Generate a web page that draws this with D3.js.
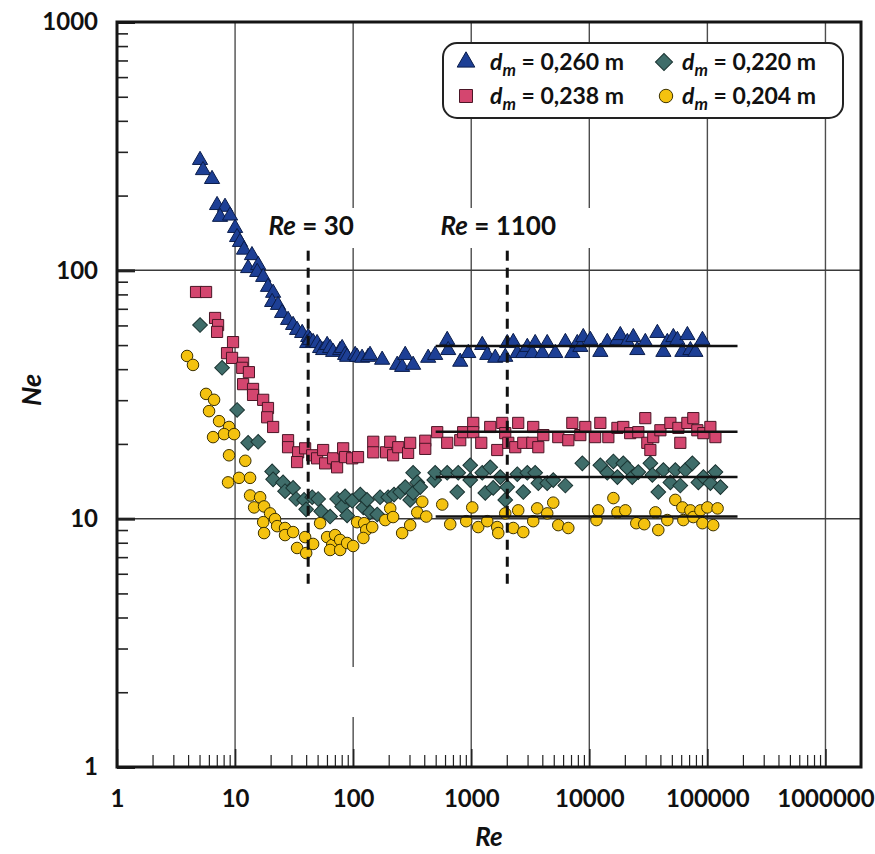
<!DOCTYPE html>
<html><head><meta charset="utf-8">
<script src="https://cdn.jsdelivr.net/npm/d3@7"></script>
<style>
html,body{margin:0;padding:0;background:#fff;}
svg{display:block;font-family:Lato,"Open Sans",sans-serif;}
</style></head><body>
<svg id="chart" width="875" height="854"></svg>
<script>
// ---------- data ----------
const reTicks = [1, 10, 100, 1000, 10000, 100000, 1000000];
const neTicks = [1, 10, 100, 1000];
const seriesLabels = ["0,260", "0,238", "0,220", "0,204"];

const dm260 = [[5.05,278],[5.35,253],[6.38,233],[7.04,183],[8.22,180],[7.46,164],[9.07,166],[10,148],[10.4,136],[11.0,130],[11.9,121],[13.9,115],[12.9,102],[15.7,105],[15.4,98.4],[17.3,94],[19.0,85.7],[21.0,81.1],[20.6,74.5],[23.1,72.5],[25.0,67.3],[28.1,63.1],[31.0,60.2],[33.5,57.5],[37.0,55.9],[41.6,53.8],[40.8,50.9],[43.2,52.4],[45.8,51.4],[49.5,50.9],[52.5,48.6],[55.7,47.7],[60.2,50.0],[63.8,48.6],[67.7,46.9],[77.6,47.7],[80.7,48.6],[85.5,45.6],[88.9,44.8],[104,45.6],[108,44.8],[119,44.4],[134,44.8],[139,45.6],[176,43.6],[236,41.6],[260,40.8],[276,45.6],[322,41.6],[432,44.4],[495,45.6],[626,52.4],[638,47.7],[807,42.8],[944,46.4],[1240,50.0],[1367,45.6],[1597,44.4],[1941,44.8],[2018,50.9],[2270,51.4],[2455,46.4],[2760,46.4],[2985,49.1],[3290,46.4],[3480,50.9],[4000,46.4],[4400,50.9],[5150,46.4],[6270,51.4],[7180,46.4],[7910,50.9],[8390,49.1],[8890,53.8],[10200,52.4],[12400,46.9],[14200,51.4],[17300,52.4],[18300,54.8],[21000,51.4],[23600,53.8],[25500,47.7],[29800,51.4],[37700,55.9],[42400,46.9],[45800,51.4],[51500,53.8],[55700,52.4],[61400,46.9],[67700,54.8],[71800,47.7],[79100,46.9],[90800,52.4]];

const dm238 = [[4.67,81.8],[5.68,81.8],[6.77,64.3],[7.18,60.2],[7.04,56.5],[9.61,51.4],[8.55,46.4],[9.43,44.4],[11.7,42.4],[11.5,40.5],[13.1,38.9],[11.7,34.8],[14.2,33.3],[14.2,31.5],[17.3,30.1],[19.0,27.9],[18.7,25.6],[21.0,23.4],[28.1,20.7],[28.1,19.4],[34.2,18.5],[33.5,16.9],[39.2,19.2],[45.0,18.0],[49.5,17.5],[55.7,18.9],[57.9,16.7],[67.7,17.5],[73.1,16.1],[82.3,19.2],[85.5,17.7],[98.1,17.5],[110,17.7],[148,20.4],[148,18.5],[190,18.5],[206,20.4],[218,18.0],[241,19.4],[292,18.4],[304,20.2],[408,20.6],[408,19.1],[515,22.3],[626,20.2],[807,20.7],[855,22.3],[1040,24.3],[1040,22.3],[1216,20.2],[1449,23.4],[1660,18.9],[1832,24.3],[1941,22.1],[2060,20.2],[2360,19.4],[2500,24.3],[2760,20.2],[3290,20.2],[3350,23.4],[3700,19.4],[4080,21.7],[5460,21.3],[6640,20.7],[7180,24.3],[8390,21.7],[9250,23.4],[11200,21.3],[12400,24.3],[14500,21.3],[17300,23.2],[19400,23.4],[22200,22.1],[26000,22.3],[29800,25.4],[31000,20.2],[32900,18.9],[34800,21.3],[40000,22.7],[48600,24.3],[56800,23.2],[59000,20.2],[67700,24.3],[76000,25.4],[82200,22.7],[92500,22.1],[106000,23.4],[117000,21.3]];

const dm220 = [[5.05,60.2],[7.76,40.5],[10.4,27.4],[12.9,20.2],[15.7,20.4],[20.6,15.5],[21.0,14.4],[25.5,14.0],[26.5,12.9],[31.0,13.3],[32.9,12.0],[38.4,11.9],[40.0,10.9],[45.0,12.2],[50.5,12.0],[53.6,10.7],[63.8,10.2],[73.1,12.0],[80.7,11.2],[88.9,10.3],[85.5,12.3],[98.1,11.8],[115,12.5],[122,11.1],[131,11.9],[139,10.6],[160,10.4],[169,12.2],[198,12.2],[222,12.5],[250,12.8],[276,13.4],[304,11.9],[322,12.7],[322,15.3],[349,14.0],[370,13.4],[486,14.3],[495,15.3],[626,15.3],[761,12.8],[776,15.3],[981,16.4],[981,14.3],[1240,15.3],[1315,12.7],[1449,16.1],[1535,13.3],[1762,14.7],[1941,11.9],[2018,13.4],[2455,15.1],[2760,12.8],[2985,15.3],[3480,15.3],[3700,13.9],[4400,13.9],[4950,14.3],[6270,13.6],[8730,16.7],[12400,16.4],[14200,15.3],[16000,17.0],[17300,14.7],[19400,16.7],[21000,16.0],[23100,14.7],[26000,15.4],[32900,16.7],[34200,15.0],[38400,12.8],[42400,15.7],[48600,14.0],[53500,15.7],[59000,13.6],[65100,15.7],[74600,16.7],[83900,14.0],[92500,14.7],[106000,13.9],[117000,15.4],[129000,13.4]];

const dm204 = [[3.92,45.2],[4.40,41.6],[5.68,31.8],[6.64,30.1],[6.02,27.1],[7.32,24.7],[8.89,23.4],[6.51,21.3],[8.07,21.9],[9.81,21.9],[8.89,18.0],[12.2,17.1],[8.72,14.0],[10.8,14.6],[13.4,14.6],[13.4,12.4],[16.3,12.2],[14.5,11.1],[17.6,11.2],[19.8,10.5],[17.3,9.68],[21.8,9.96],[22.7,9.33],[26.5,9.17],[17.6,8.75],[26.5,8.59],[31.0,8.83],[33.5,7.62],[40.0,7.27],[39.2,8.43],[45.8,7.91],[52.5,9.59],[60.2,8.43],[66.4,7.83],[70.3,8.59],[77.6,8.21],[63.8,7.48],[77.6,7.48],[88.9,7.98],[100,7.76],[108,9.68],[124,9.59],[129,9.00],[122,8.36],[145,9.25],[187,9.87],[206,11.0],[218,10.15],[260,8.75],[304,9.42],[349,10.6],[385,11.7],[416,10.2],[568,11.4],[664,9.50],[907,9.77],[1020,11.1],[1146,9.25],[1367,9.77],[1660,9.25],[1694,8.75],[1941,10.5],[2270,9.17],[2500,10.8],[2760,8.83],[3350,9.77],[3620,11.0],[4400,10.5],[4950,11.6],[5460,9.42],[6640,9.17],[11500,9.87],[11900,10.8],[16000,12.1],[17300,10.6],[20200,10.8],[25000,9.59],[29200,9.50],[36300,10.6],[38400,9.00],[45800,9.87],[53500,11.9],[61400,11.1],[62600,9.87],[71800,10.8],[76000,10.15],[87300,10.8],[90800,9.59],[100000,11.1],[112000,9.42],[122000,11.0]];

const fitNe = [49.6, 22.4, 14.7, 10.2];
const fitRe = [500, 180000];
const refRe = [41.6, 2020];
const refLabels = ["30", "1100"];
const refNe = [5.2, 120];

// ---------- setup ----------
const svg = d3.select("#chart");
svg.append("rect").attr("width", 875).attr("height", 854).attr("fill", "#fff");
const x = d3.scaleLog().domain([1, 2e6]).range([117, 861]);
const y = d3.scaleLog().domain([1, 1000]).range([767, 22]);
const FONT = "Lato, 'Open Sans', sans-serif";

// gridlines
svg.append("g").selectAll("line").data(reTicks.slice(1)).join("line")
  .attr("x1", d => x(d)).attr("x2", d => x(d)).attr("y1", y(1000)).attr("y2", y(1))
  .attr("stroke", "#4d4d4d").attr("stroke-width", 1.4);
svg.append("g").selectAll("line").data(neTicks.slice(1, 3)).join("line")
  .attr("x1", x(1)).attr("x2", x(2e6)).attr("y1", d => y(d)).attr("y2", d => y(d))
  .attr("stroke", "#3a3a3a").attr("stroke-width", 1.5);

// white masks (gaps in the gridlines)
svg.append("rect").attr("x", 252).attr("y", 208).attr("width", 350).attr("height", 40).attr("fill", "#fff");
svg.append("rect").attr("x", 345).attr("y", 667).attr("width", 16).attr("height", 50).attr("fill", "#fff");

// minor ticks
const minorRe = [], minorNe = [];
reTicks.slice(0, 6).forEach(d => { for (let k = 2; k <= 9; k++) minorRe.push(d * k); });
neTicks.slice(0, 3).forEach(d => { for (let k = 2; k <= 9; k++) minorNe.push(d * k); });

const styleAxis = g => {
  g.select(".domain").remove();
  g.selectAll("line").attr("stroke", "#222");
  g.selectAll("text").attr("font-family", FONT).attr("font-weight", 700)
    .attr("font-size", 24).attr("fill", "#111");
};
svg.append("g").attr("transform", `translate(0,${y(1)})`)
  .call(d3.axisBottom(x).tickValues(minorRe).tickSize(-12).tickFormat(""))
  .call(styleAxis).selectAll("line").attr("stroke-width", 1.2);
svg.append("g").attr("transform", `translate(0,${y(1)})`)
  .call(d3.axisBottom(x).tickValues(reTicks).tickSize(-18).tickPadding(23).tickFormat(d3.format("d")))
  .call(styleAxis).selectAll("line").attr("stroke-width", 1.6);
svg.append("g").attr("transform", `translate(${x(1)},0)`)
  .call(d3.axisLeft(y).tickValues(minorNe).tickSize(-11).tickFormat(""))
  .call(styleAxis).selectAll("line").attr("stroke-width", 1.6);
svg.append("g").attr("transform", `translate(${x(1)},0)`)
  .call(d3.axisLeft(y).tickValues(neTicks).tickSize(-18).tickPadding(19).tickFormat(d3.format("d")))
  .call(styleAxis).selectAll("line").attr("stroke-width", 3);

// frame
svg.append("rect").attr("x", x(1)).attr("y", y(1000))
  .attr("width", x(2e6) - x(1)).attr("height", y(1) - y(1000))
  .attr("fill", "none").attr("stroke", "#151515").attr("stroke-width", 3);

// ---------- markers ----------
const styles = [
  { data: dm260, shape: d3.symbolTriangle, size: 100, rot: 0, fill: "#1d3f95", stroke: "#0a1c4a" },
  { data: dm238, shape: d3.symbolSquare, size: 125, rot: 0, fill: "#d4466f", stroke: "#4a1626" },
  { data: dm220, shape: d3.symbolSquare, size: 108, rot: 45, fill: "#3f6d6a", stroke: "#1a3331" },
  { data: dm204, shape: d3.symbolCircle, size: 105, rot: 0, fill: "#f4c20f", stroke: "#3d3200" }
];
[0, 1, 2, 3].forEach(i => {
  const s = styles[i];
  svg.append("g").selectAll("path").data(s.data).join("path")
    .attr("d", d3.symbol(s.shape, s.size))
    .attr("transform", d => `translate(${x(d[0])},${y(d[1])}) rotate(${s.rot})`)
    .attr("fill", s.fill).attr("stroke", s.stroke).attr("stroke-width", 1);
});

// fit lines
svg.append("g").selectAll("line").data(fitNe).join("line")
  .attr("x1", x(fitRe[0])).attr("x2", x(fitRe[1]))
  .attr("y1", d => y(d)).attr("y2", d => y(d))
  .attr("stroke", "#111").attr("stroke-width", 2.5);

// dashed reference lines
svg.append("g").selectAll("line").data(refRe).join("line")
  .attr("x1", d => x(d)).attr("x2", d => x(d))
  .attr("y1", y(refNe[1])).attr("y2", y(refNe[0]))
  .attr("stroke", "#111").attr("stroke-width", 3).attr("stroke-dasharray", "10,7");

// annotation labels
const annOffsets = [3, -9];
refRe.forEach((r, i) => {
  const t = svg.append("text").attr("x", x(r) + annOffsets[i]).attr("y", 235)
    .attr("text-anchor", "middle").attr("font-family", FONT).attr("font-weight", 700)
    .attr("font-size", 26).attr("fill", "#111");
  t.append("tspan").attr("font-style", "italic").text("Re");
  t.append("tspan").text(" = " + refLabels[i]);
});

// axis titles
svg.append("text").attr("x", (x(1) + x(2e6)) / 2).attr("y", 846).attr("text-anchor", "middle")
  .attr("font-family", FONT).attr("font-weight", 700).attr("font-style", "italic")
  .attr("font-size", 26).attr("fill", "#111").text("Re");
svg.append("text").attr("transform", "translate(41,390) rotate(-90)").attr("text-anchor", "middle")
  .attr("font-family", FONT).attr("font-weight", 700).attr("font-style", "italic")
  .attr("font-size", 27).attr("fill", "#111").text("Ne");

// ---------- legend ----------
svg.append("rect").attr("x", 443).attr("y", 43).attr("width", 400).attr("height", 75).attr("rx", 14)
  .attr("fill", "#fff").attr("stroke", "#222").attr("stroke-width", 2);
const legPos = [[466, 62], [466, 96], [664, 62], [666, 96]];
const legTextX = [490, 490, 682, 682];
[0, 1, 2, 3].forEach(i => {
  const s = styles[i], p = legPos[i];
  svg.append("path").attr("d", d3.symbol(s.shape, s.size * 1.35))
    .attr("transform", `translate(${p[0]},${p[1]}) rotate(${s.rot})`)
    .attr("fill", s.fill).attr("stroke", s.stroke).attr("stroke-width", 1);
  const t = svg.append("text").attr("x", legTextX[i]).attr("y", p[1] + 8)
    .attr("font-family", FONT).attr("font-weight", 700).attr("font-size", 23).attr("fill", "#111");
  t.append("tspan").attr("font-style", "italic").text("d");
  t.append("tspan").attr("font-style", "italic").attr("font-size", 17).attr("dy", 6).text("m");
  t.append("tspan").attr("dy", -6).text(" = " + seriesLabels[i] + " m");
});
</script>
</body></html>
